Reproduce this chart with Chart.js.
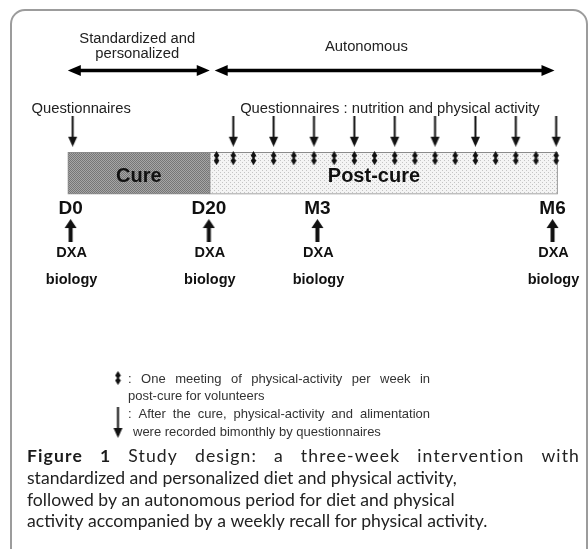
<!DOCTYPE html>
<html>
<head>
<meta charset="utf-8">
<script src="https://cdn.jsdelivr.net/npm/chart.js@4.4.1/dist/chart.umd.min.js"></script>
<style>
html,body{margin:0;padding:0;background:#fff;}
#wrap{width:588px;height:551px;position:relative;}
canvas{display:block;}
</style>
</head>
<body>
<div id="wrap"><canvas id="c" width="588" height="551"></canvas></div>
<script>
// ===== DATA (schematic timeline; unit = one post-cure week, D20 ≈ 0) =====
const phaseNames   = ['Cure', 'Post-cure'];
const phaseStart   = [-7.2, -0.165];
const phaseEnd     = [-0.165, 17.07];
const phaseLabelAt = [-3.68, 7.97];

const periodLabels  = [['Standardized and', 'personalized'], ['Autonomous']];
const periodStart   = [-7.2, 0.08];
const periodEnd     = [-0.165, 16.92];
const periodLabelAt = [-3.76, 7.6];

const weeklyMeetings = [0.17, 1, 2, 3, 4, 5, 6, 7, 8, 9, 10, 11, 12, 13, 14, 15, 16, 17];
const initialQuestionnaire = [-6.96];
const bimonthlyQuestionnaires = [1, 3, 5, 7, 9, 11, 13, 15, 17];
const questionnaireLabels = ['Questionnaires', 'Questionnaires : nutrition and physical activity'];
const questionnaireLabelAt = [-9.0, 1.34];

const milestones    = ['D0', 'D20', 'M3', 'M6'];
const milestoneAt   = [-7.06, -0.21, 5.17, 16.82];
const milestoneExams = ['DXA', 'biology'];

const legendTexts = [
  [': One meeting of physical-activity per week in', 'post-cure for volunteers'],
  [': After the cure, physical-activity and alimentation', 'were recorded bimonthly by questionnaires']
];
const captionBold = 'Figure 1';
const captionLines = [
  'Study design: a three-week intervention with',
  'standardized and personalized diet and physical activity,',
  'followed by an autonomous period for diet and physical',
  'activity accompanied by a weekly recall for physical activity.'
];

// ===== LAYOUT (pixel rows / styles) =====
const ROW = { pText1: 38, pText2: 53, pText3: 46, pArrow: 66, qText: 109, qArrow: 128, meeting: 155.5,
              bar: 171, phaseText: 180, milestone: 213, upArrow: 229.5, exam1: 257, exam2: 284 };
const X_OFF = 211.4, X_UNIT = 20.6, W = 588, H = 551;
const ARIAL = '"Liberation Sans", Arial, sans-serif';
const CAPF = 'Lato, "Open Sans", sans-serif';

// ===== glyph images =====
function mk(w, h, draw) { const c = document.createElement('canvas'); c.width = w; c.height = h; const g = c.getContext('2d'); draw(g); return c; }
const meetingImg = mk(7, 14, g => {
  g.fillStyle = '#111'; g.beginPath();
  g.moveTo(3.5, 0); g.lineTo(6.3, 4.5); g.lineTo(4.4, 7); g.lineTo(6.3, 9.5);
  g.lineTo(3.5, 14); g.lineTo(0.7, 9.5); g.lineTo(2.6, 7); g.lineTo(0.7, 4.5);
  g.closePath(); g.fill();
});
const downImg = mk(11, 31, g => {
  g.fillStyle = '#111'; g.fillRect(4.5, 0, 2, 22);
  g.beginPath(); g.moveTo(1, 21); g.lineTo(10, 21); g.lineTo(5.5, 31); g.closePath(); g.fill();
});
const upImg = mk(13, 23, g => {
  g.fillStyle = '#111';
  g.beginPath(); g.moveTo(6.5, 0); g.lineTo(0.5, 9); g.lineTo(12.5, 9); g.closePath(); g.fill();
  g.fillRect(4.5, 8, 4, 15);
});

// patterns
function pattern(size, base, dot, pts) {
  const c = mk(size, size, g => { g.fillStyle = base; g.fillRect(0, 0, size, size); g.fillStyle = dot; pts.forEach(p => g.fillRect(p[0], p[1], 1, 1)); });
  return document.getElementById('c').getContext('2d').createPattern(c, 'repeat');
}
const curePattern = pattern(2, '#a6a6a6', '#767676', [[0, 0], [1, 1]]);
const postPattern = pattern(4, '#f4f4f4', '#c4c4c4', [[0, 0], [2, 2]]);

// ===== helpers =====
function fitSize(ctx, text, weight, family, targetW) {
  ctx.font = weight + ' 100px ' + family;
  return 100 * targetW / ctx.measureText(text).width;
}
function drawWords(ctx, parts, x0, x1, y, ls) {
  ctx.letterSpacing = (ls || 0) + 'px';
  const ws = parts.map(p => { ctx.font = p.font; return ctx.measureText(p.t).width; });
  const tot = ws.reduce((a, b) => a + b, 0);
  const gap = (x1 - x0 - tot) / (parts.length - 1);
  let x = x0;
  ctx.textAlign = 'left';
  parts.forEach((p, i) => { ctx.font = p.font; ctx.fillStyle = p.color; ctx.fillText(p.t, x, y); x += ws[i] + gap; });
  ctx.letterSpacing = '0px';
}
function arrowHead(ctx, tipX, y, dir) {
  ctx.beginPath(); ctx.moveTo(tipX, y); ctx.lineTo(tipX - dir * 13, y - 5.5); ctx.lineTo(tipX - dir * 13, y + 5.5); ctx.closePath(); ctx.fill();
}

const diagramPlugin = {
  id: 'diagram',
  beforeDatasetsDraw(chart) {
    const ctx = chart.ctx;
    ctx.save();
    ctx.fillStyle = '#fff'; ctx.fillRect(0, 0, W, H);
    ctx.strokeStyle = '#9c9c9c'; ctx.lineWidth = 2;
    ctx.beginPath();
    ctx.moveTo(11, 549); ctx.lineTo(11, 24); ctx.arcTo(11, 10, 25, 10, 14);
    ctx.lineTo(573, 10); ctx.arcTo(587, 10, 587, 24, 14); ctx.lineTo(587, 549);
    ctx.stroke();
    ctx.restore();
  },
  afterDatasetsDraw(chart) {
    const ctx = chart.ctx, xs = chart.scales.x, ys = chart.scales.y;
    const X = v => xs.getPixelForValue(v), Y = v => ys.getPixelForValue(v);
    ctx.save();
    ctx.textBaseline = 'alphabetic';
    // period arrows + labels
    ctx.fillStyle = '#000'; ctx.strokeStyle = '#000'; ctx.lineWidth = 3.5;
    periodStart.forEach((s, i) => {
      const a = X(s), b = X(periodEnd[i]), y = Y(ROW.pArrow);
      ctx.beginPath(); ctx.moveTo(a + 8, y); ctx.lineTo(b - 8, y); ctx.stroke();
      arrowHead(ctx, a, y, -1); arrowHead(ctx, b, y, 1);
    });
    ctx.fillStyle = '#222'; ctx.textAlign = 'center';
    const pSize = fitSize(ctx, 'Standardized and', 'normal', ARIAL, 116);
    ctx.font = `normal ${pSize}px ${ARIAL}`;
    ctx.fillText(periodLabels[0][0], X(periodLabelAt[0]), Y(ROW.pText1));
    ctx.fillText(periodLabels[0][1], X(periodLabelAt[0]), Y(ROW.pText2));
    ctx.fillText(periodLabels[1][0], X(periodLabelAt[1]), Y(ROW.pText3));
    // questionnaire labels
    ctx.textAlign = 'left';
    ctx.fillText(questionnaireLabels[0], X(questionnaireLabelAt[0]), Y(ROW.qText));
    ctx.font = `normal ${fitSize(ctx, questionnaireLabels[1], 'normal', ARIAL, 300)}px ${ARIAL}`;
    ctx.fillText(questionnaireLabels[1], X(questionnaireLabelAt[1]), Y(ROW.qText));
    // phase labels
    ctx.fillStyle = '#111'; ctx.textAlign = 'center';
    ctx.font = `bold 20px ${ARIAL}`;
    phaseNames.forEach((n, i) => ctx.fillText(n, X(phaseLabelAt[i]), Y(ROW.phaseText)));
    // milestones
    milestones.forEach((m, i) => {
      const x = X(milestoneAt[i]);
      ctx.font = `bold 19px ${ARIAL}`; ctx.fillText(m, x, Y(ROW.milestone));
      ctx.font = `bold 14.5px ${ARIAL}`;
      ctx.fillText(milestoneExams[0], x + 1, Y(ROW.exam1));
      ctx.fillText(milestoneExams[1], x + 1, Y(ROW.exam2));
    });
    // legend
    ctx.drawImage(meetingImg, 118 - 3.5, 378 - 7);
    ctx.drawImage(downImg, 118 - 5.5, 407);
    const lf = `normal 13px ${ARIAL}`;
    const lc = '#333';
    const words = s => s.split(' ').map(t => ({ t, font: lf, color: lc }));
    drawWords(ctx, words(legendTexts[0][0]), 128, 430, 383);
    ctx.font = lf; ctx.fillStyle = lc; ctx.textAlign = 'left';
    ctx.fillText(legendTexts[0][1], 128, 400);
    drawWords(ctx, words(legendTexts[1][0]), 128, 430, 418);
    ctx.font = lf; ctx.fillStyle = lc;
    ctx.fillText(legendTexts[1][1], 133, 436);
    // caption
    const cs = fitSize(ctx, captionLines[1], 'normal', CAPF, 430);
    const cf = `normal ${cs}px ${CAPF}`, cb = `bold ${cs}px ${CAPF}`;
    const parts = captionBold.split(' ').map(t => ({ t, font: cb, color: '#1a1a1a' }))
      .concat(captionLines[0].split(' ').map(t => ({ t, font: cf, color: '#222' })));
    drawWords(ctx, parts, 27, 580, 462, 1.1);
    ctx.font = cf; ctx.fillStyle = '#222'; ctx.textAlign = 'left';
    ctx.fillText(captionLines[1], 27, 484);
    ctx.fillText(captionLines[2], 27, 505.5);
    ctx.fillText(captionLines[3], 27, 527);
    ctx.restore();
  }
};

const pt = (arr, row) => arr.map(v => ({ x: v, y: row }));

new Chart(document.getElementById('c'), {
  type: 'scatter',
  data: {
    datasets: [
      {
        type: 'bar', label: 'Phases', indexAxis: 'y',
        data: phaseNames.map((n, i) => ({ y: ROW.bar, x: [phaseStart[i], phaseEnd[i]] })),
        backgroundColor: [curePattern, postPattern],
        borderColor: '#8a8a8a', borderWidth: 1, borderSkipped: false,
        barThickness: 42, order: 3, clip: false
      },
      { label: 'Weekly meetings', data: pt(weeklyMeetings, ROW.meeting), pointStyle: meetingImg, pointRadius: 5, order: 1, clip: false },
      { label: 'Questionnaires', data: pt(initialQuestionnaire.concat(bimonthlyQuestionnaires), ROW.qArrow), pointStyle: downImg, pointRadius: 5, order: 1, clip: false },
      { label: 'DXA / biology', data: pt(milestoneAt, ROW.upArrow), pointStyle: upImg, pointRadius: 5, order: 1, clip: false }
    ]
  },
  options: {
    responsive: false, animation: false, events: [], devicePixelRatio: 1,
    layout: { padding: 0 },
    plugins: { legend: { display: false }, tooltip: { enabled: false }, title: { display: false } },
    scales: {
      x: { type: 'linear', display: false, offset: false, grace: 0, min: -X_OFF / X_UNIT, max: (W - X_OFF) / X_UNIT },
      y: { type: 'linear', display: false, offset: false, grace: 0, min: 0, max: H, reverse: true }
    }
  },
  plugins: [diagramPlugin]
});
</script>
</body>
</html>
